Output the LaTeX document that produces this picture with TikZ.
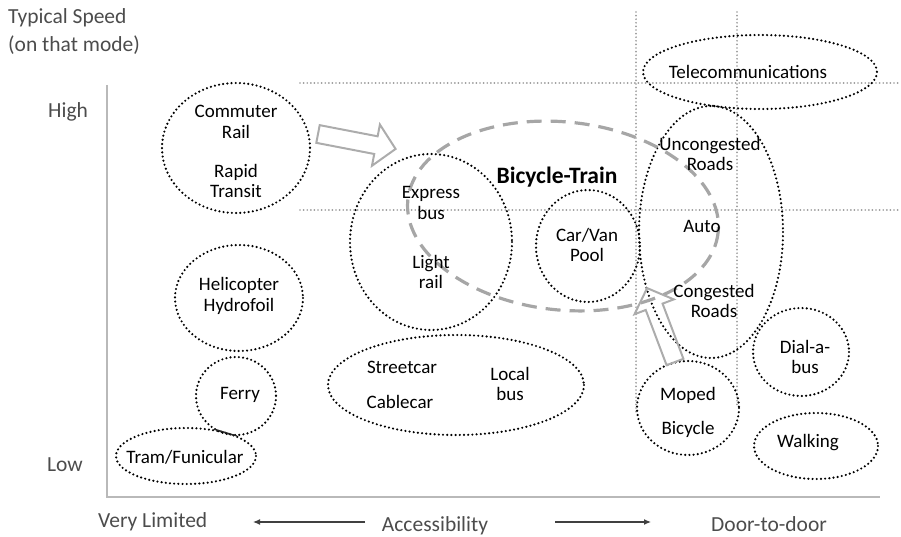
\documentclass[tikz,border=0pt]{standalone}
\usepackage{fontspec}
\setmainfont{Carlito}
\usetikzlibrary{calc}
\usetikzlibrary{arrows.meta}
\tikzset{
  ring/.style = {color=#1, line width=2.4pt, line cap=round, dash pattern=on 0pt off 4.2pt},
  grid line/.style = {color=#1, line width=1.9pt, line cap=round, dash pattern=on 0pt off 3.6pt},
  axis/.style = {color=#1, line width=1.2pt},
  axis arrow/.style = {color=#1, line width=1.2pt, -{Latex[length=7pt,width=6pt]}},
  axis label/.style = {color=#1, font=\fontsize{21.5}{26}\selectfont, inner sep=0pt},
  mode/.style = {font=\fontsize{19}{20.5}\selectfont, align=center, inner sep=0pt},
  trend/.style = {color=#1, line width=3.2pt, dash pattern=on 15pt off 9pt},
  hollow/.style = {draw=#1, line width=2pt, line join=miter}
}
\newcommand{\blockarrow}[4][]{%
  % #1: optional style
  % #2: tail coordinate
  % #3: direction (degrees)
  % #4: length
  \begin{scope}[shift={(#2)}, rotate=#3, #1]
    \draw[hollow={gray!65}] (0,-9) -- (#4-20,-9) -- (#4-20,-21) -- (#4,0)
      -- (#4-20,21) -- (#4-20,9) -- (0,9) -- cycle;
  \end{scope}
}

\begin{document}
\begin{tikzpicture}[x=1pt,y=-1pt]

    \useasboundingbox (0,0) rectangle (901,537);

    % Grid
    \draw[grid line={gray!80}] (300,83) -- (901,83);
    \draw[grid line={gray!80}] (300,210) -- (901,210);
    \draw[grid line={gray!80}] (636,12) -- (636,412);
    \draw[grid line={gray!80}] (737,12) -- (737,405);

    % Axes
    \coordinate (O) at (107,497);
    \draw[axis={gray!55}] (107,85) -- (O) -- (880,497);

    % Axis labels
    \node[axis label={black!70}, anchor=west] (speed) at (8,18) {Typical Speed};
    \node[axis label={black!70}, anchor=west] (mode) at (8,45) {(on that mode)};
    \node[axis label={black!70}, anchor=west] (high) at (48,112) {High};
    \node[axis label={black!70}, anchor=west] (low) at (47,465) {Low};
    \node[axis label={black!70}, anchor=west] (limited) at (98,522) {Very Limited};
    \node[axis label={black!70}] (access) at (435,526) {Accessibility};
    \node[axis label={black!70}, anchor=west] (door) at (711,524) {Door-to-door};
    \coordinate (accLs) at (365,522);
    \coordinate (accL) at (253,522);
    \coordinate (accRs) at (555,522);
    \coordinate (accR) at (651,522);
    \draw[axis arrow={black!75}] (accLs) -- (accL);
    \draw[axis arrow={black!75}] (accRs) -- (accR);

    % Modes
    \draw[ring={black}] (236,148) ellipse[x radius=74, y radius=65];
    \draw[ring={black}] (760,72) ellipse[x radius=117, y radius=37];
    \draw[ring={black}] (431,242) ellipse[x radius=81, y radius=88];
    \draw[ring={black}] (588,246) ellipse[x radius=52, y radius=56];
    \draw[ring={black}] (711,232) ellipse[x radius=72, y radius=126];
    \draw[ring={black}] (239,298) ellipse[x radius=64, y radius=53];
    \draw[ring={black}] (236,396) ellipse[x radius=40, y radius=39];
    \draw[ring={black}] (186,456) ellipse[x radius=70, y radius=28];
    \draw[ring={black}] (456,385) ellipse[x radius=128, y radius=50];
    \draw[ring={black}] (688,408) ellipse[x radius=51, y radius=47];
    \draw[ring={black}] (801,352) ellipse[x radius=48, y radius=44];
    \draw[ring={black}] (816,446) ellipse[x radius=62, y radius=33];

    % Bicycle-Train
    \draw[trend={gray!70}, rotate around={-6:(563,216)}] (563,216) ellipse[x radius=156, y radius=94];

    % Shifts
    \blockarrow{318,134}{-10.9}{79}
    \blockarrow{675,362}{110.7}{79}

    % Labels
    \node[mode] (commuter) at (236,122) {Commuter\\Rail};
    \node[mode] (rapid) at (236,181) {Rapid\\Transit};
    \node[mode] (telecom) at (748,72) {Telecommunications};
    \node[mode, font=\bfseries\fontsize{23.5}{26}\selectfont] (bike) at (557,177) {Bicycle-Train};
    \node[mode] (express) at (431,203) {Express\\bus};
    \node[mode] (light) at (431,272) {Light\\rail};
    \node[mode] (carpool) at (587,245) {Car/Van\\Pool};
    \node[mode] (unc) at (710,154) {Uncongested\\Roads};
    \node[mode] (auto) at (702,226) {Auto};
    \node[mode] (cong) at (714,301) {Congested\\Roads};
    \node[mode] (heli) at (239,296) {Helicopter\\Hydrofoil};
    \node[mode] (ferry) at (240,395) {Ferry};
    \node[mode] (tram) at (185,457) {Tram/Funicular};
    \node[mode] (street) at (402,367) {Streetcar};
    \node[mode] (cable) at (400,402) {Cablecar};
    \node[mode] (local) at (510,384) {Local\\bus};
    \node[mode] (moped) at (688,395) {Moped};
    \node[mode] (bicycle) at (688,429) {Bicycle};
    \node[mode] (dial) at (805,357) {Dial-a-\\bus};
    \node[mode] (walk) at (808,443) {Walking};

    % Ferry / tram touch
    \draw[black!85, line width=1.2pt] (214,429) -- (237,436);

\end{tikzpicture}
\end{document}
